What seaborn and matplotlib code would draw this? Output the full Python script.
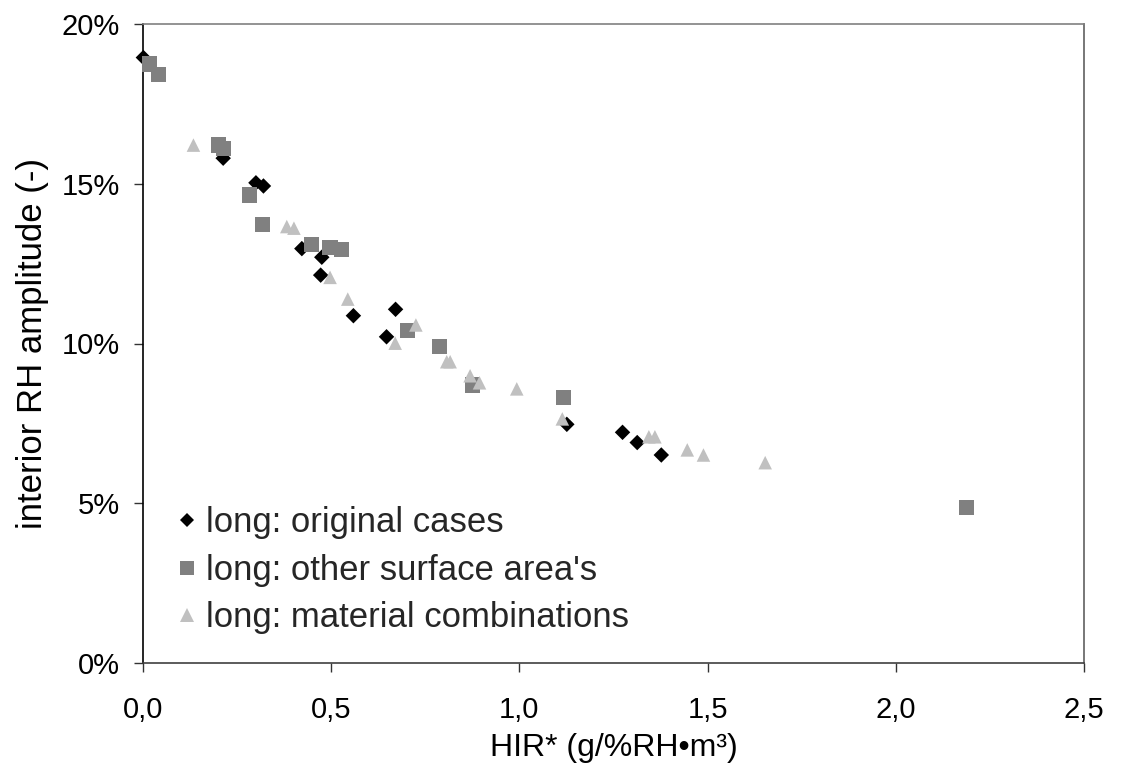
import matplotlib
matplotlib.use("Agg")
import matplotlib.pyplot as plt
from matplotlib.lines import Line2D
from matplotlib.ticker import FuncFormatter
import seaborn as sns
import pandas as pd

# ---- data (HIR*, interior RH amplitude in %) ----
original_x = [0.001, 0.213, 0.300, 0.320, 0.422, 0.475, 0.472, 0.559, 0.647, 0.671, 1.126, 1.274, 1.313, 1.377]
original_y = [18.95, 15.80, 15.03, 14.93, 12.97, 12.70, 12.14, 10.87, 10.21, 11.07, 7.47, 7.22, 6.90, 6.51]

surface_x = [0.017, 0.041, 0.200, 0.213, 0.282, 0.317, 0.448, 0.497, 0.528, 0.702, 0.787, 0.876, 1.118, 2.188]
surface_y = [18.75, 18.43, 16.21, 16.11, 14.65, 13.73, 13.10, 13.00, 12.93, 10.40, 9.90, 8.70, 8.30, 4.87]

material_x = [0.134, 0.382, 0.401, 0.497, 0.544, 0.670, 0.725, 0.807, 0.816, 0.869, 0.894, 0.993,
              1.114, 1.344, 1.360, 1.446, 1.489, 1.653]
material_y = [16.21, 13.66, 13.61, 12.07, 11.39, 10.01, 10.58, 9.43, 9.43, 8.99, 8.77, 8.58,
              7.64, 7.08, 7.08, 6.67, 6.51, 6.27]

series_names = ["long: original cases", "long: other surface area's", "long: material combinations"]
x_ticks = [0.0, 0.5, 1.0, 1.5, 2.0, 2.5]
y_ticks = [0, 5, 10, 15, 20]

sns.set_theme(style="white")
plt.rcParams["font.family"] = ["Liberation Sans", "DejaVu Sans"]

df = pd.concat([
    pd.DataFrame({"x": original_x, "y": original_y, "series": series_names[0]}),
    pd.DataFrame({"x": surface_x, "y": surface_y, "series": series_names[1]}),
    pd.DataFrame({"x": material_x, "y": material_y, "series": series_names[2]}),
])

styles = {
    series_names[0]: dict(marker="D", color="#000000", s=62),
    series_names[1]: dict(marker="s", color="#808080", s=120),
    series_names[2]: dict(marker="^", color="#c0c0c0", s=95),
}

fig = plt.figure(figsize=(11.44, 7.76), dpi=100)
ax = fig.add_axes([143 / 1144, 1 - 663 / 776, (1084 - 143) / 1144, (663 - 24) / 776])

for z, name in enumerate(series_names):
    st = styles[name]
    sub = df[df["series"] == name]
    sns.scatterplot(data=sub, x="x", y="y", ax=ax, marker=st["marker"], color=st["color"],
                    s=st["s"], linewidth=0, edgecolor="none", legend=False, zorder=3 + z,
                    clip_on=False)

ax.set_xlim(0, 2.5)
ax.set_ylim(0, 20)
ax.set_xticks(x_ticks)
ax.set_yticks(y_ticks)
ax.xaxis.set_major_formatter(FuncFormatter(lambda v, p: f"{v:.1f}".replace(".", ",")))
ax.yaxis.set_major_formatter(FuncFormatter(lambda v, p: f"{v:.0f}%"))

ax.tick_params(axis="both", which="major", direction="out", length=6.5, width=1.0,
               color="#333333", labelsize=21, labelcolor="black")
ax.tick_params(axis="x", pad=17, bottom=True)
ax.tick_params(axis="y", pad=10, left=True)

ax.set_xlabel("HIR* (g/%RH\u2022m\u00b3)", fontsize=23, labelpad=7, color="black")
ax.set_ylabel("interior RH amplitude (-)", fontsize=25, labelpad=9, color="black")

for side, col in {"left": "#000000", "bottom": "#404040", "top": "#808080", "right": "#606060"}.items():
    ax.spines[side].set_visible(True)
    ax.spines[side].set_color(col)
    ax.spines[side].set_linewidth(1.2)
    ax.spines[side].set_zorder(2)
ax.grid(False)

handles = [
    Line2D([], [], linestyle="none", marker="D", color="#000000", markersize=7, markeredgewidth=0),
    Line2D([], [], linestyle="none", marker="s", color="#808080", markersize=10, markeredgewidth=0),
    Line2D([], [], linestyle="none", marker="^", color="#c0c0c0", markersize=10, markeredgewidth=0),
]
ax.legend(handles, series_names, loc="upper left", bbox_to_anchor=(0.032, 0.2455),
          frameon=False, fontsize=25, handlelength=0.8, handletextpad=0.15,
          labelspacing=0.42, borderpad=0, borderaxespad=0)

fig.savefig("out.png", dpi=100)
